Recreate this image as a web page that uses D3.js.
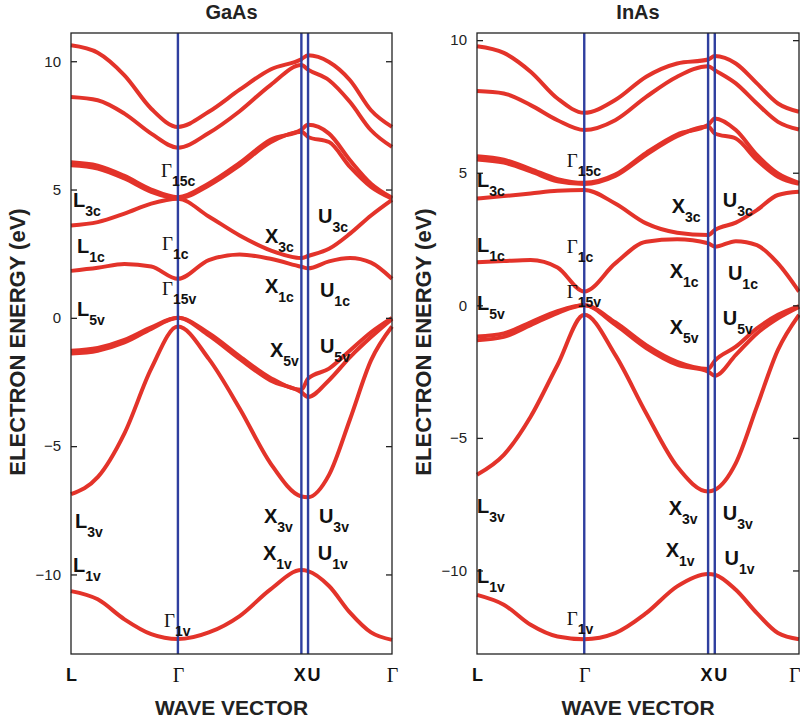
<!DOCTYPE html>
<html>
<head>
<meta charset="utf-8">
<script src="https://cdn.jsdelivr.net/npm/d3@7"></script>
<style>
  body { margin: 0; background: #fff; }
  svg { display: block; }
</style>
</head>
<body>
<div id="chart"></div>
<script>
// symmetry points along the path (k in units of 2pi/a, path length)
const kTickNames = ["L", "Γ", "X", "U", "Γ"];
const kTickPos = [0, 0.866, 1.866, 1.92, 2.6];

const kSamples = [0, 0.2165, 0.433, 0.65, 0.866, 1.116, 1.366, 1.616, 1.866, 1.92, 2.09, 2.26, 2.43, 2.6];

// GaAs bands (eV), one row per band
const gaasBands = [
  [10.62, 10.33, 9.45, 8.15, 7.44, 8.03, 8.89, 9.68, 10.08, 10.23, 9.97, 9.26, 8.09, 7.44],
  [8.61, 8.48, 7.96, 7.18, 6.63, 7.2, 8.05, 9.07, 9.85, 9.67, 9.26, 8.41, 7.31, 6.66],
  [6.06, 5.93, 5.53, 5.0, 4.7, 5.24, 6.04, 6.94, 7.33, 7.52, 7.18, 6.14, 5.23, 4.68],
  [5.95, 5.82, 5.43, 4.91, 4.66, 5.16, 5.94, 6.84, 7.25, 7.05, 6.85, 5.88, 5.1, 4.64],
  [3.6, 3.73, 4.06, 4.45, 4.64, 3.95, 3.21, 2.63, 2.33, 2.41, 2.69, 3.28, 3.99, 4.6],
  [1.83, 1.95, 2.1, 2.0, 1.52, 2.25, 2.47, 2.3, 1.99, 1.93, 2.2, 2.33, 2.15, 1.52],
  [-1.28, -1.17, -0.86, -0.37, 0, -0.6, -1.5, -2.34, -2.8, -2.37, -1.98, -1.27, -0.56, 0],
  [-1.39, -1.28, -0.96, -0.43, 0, -0.68, -1.6, -2.44, -2.9, -3.08, -2.43, -1.53, -0.75, -0.04],
  [-6.87, -6.21, -4.5, -1.98, -0.34, -1.6, -3.53, -5.67, -6.96, -6.99, -6.12, -3.95, -1.66, -0.34],
  [-10.65, -10.97, -11.75, -12.33, -12.52, -12.26, -11.62, -10.58, -9.83, -9.87, -10.45, -11.49, -12.26, -12.55]
];

// InAs bands (eV)
const inasBands = [
  [9.77, 9.52, 8.81, 7.8, 7.26, 7.74, 8.62, 9.12, 9.27, 9.4, 9.12, 8.37, 7.61, 7.3],
  [8.08, 7.99, 7.55, 6.98, 6.61, 6.98, 7.86, 8.62, 9.02, 8.87, 8.37, 7.61, 6.92, 6.63],
  [5.62, 5.49, 5.14, 4.76, 4.62, 4.93, 5.75, 6.44, 6.8, 7.05, 6.61, 5.67, 4.97, 4.62],
  [5.5, 5.38, 5.05, 4.68, 4.58, 4.88, 5.68, 6.38, 6.74, 6.48, 6.29, 5.48, 4.85, 4.58],
  [4.03, 4.12, 4.22, 4.32, 4.35, 3.84, 3.09, 2.74, 2.65, 2.84, 3.12, 3.59, 4.16, 4.28],
  [1.62, 1.67, 1.71, 1.43, 0.52, 1.58, 2.4, 2.49, 2.34, 2.21, 2.42, 2.27, 1.58, 0.52],
  [-1.18, -1.06, -0.64, -0.22, 0, -0.64, -1.5, -2.13, -2.4, -2.09, -1.56, -0.87, -0.36, -0.03],
  [-1.32, -1.19, -0.75, -0.29, 0, -0.73, -1.61, -2.24, -2.5, -2.66, -1.87, -1.06, -0.49, -0.06],
  [-6.39, -5.64, -4.2, -2.25, -0.36, -1.87, -4.07, -6.08, -7.02, -6.96, -5.95, -3.82, -1.68, -0.36],
  [-10.92, -11.29, -12.05, -12.49, -12.59, -12.36, -11.61, -10.6, -10.13, -10.16, -10.73, -11.61, -12.36, -12.59]
];

const yTicks = [-10, -5, 0, 5, 10];

// level labels: main letter, subscript
const levelMain = ["Γ", "L", "Γ", "L", "Γ", "L", "X", "U", "X", "U", "X", "U", "X", "U", "X", "U", "L", "L", "Γ"];
const levelSub = ["15c", "3c", "1c", "1c", "15v", "5v", "3c", "3c", "1c", "1c", "5v", "5v", "3v", "3v", "1v", "1v", "3v", "1v", "1v"];
// anchor (k, E) of each label in each panel
const gaasLabelK = [0.729, 0.016, 0.737, 0.049, 0.737, 0.049, 1.571, 2.0, 1.571, 2.016, 1.611, 2.016, 1.563, 2.008, 1.555, 1.999, 0.032, 0.016, 0.753];
const gaasLabelE = [5.49, 4.32, 2.63, 2.52, 0.89, 0.07, 2.93, 3.71, 0.96, 0.81, -1.53, -1.38, -8.0, -8.0, -9.45, -9.45, -8.2, -9.92, -12.06];
const inasLabelK = [0.724, 0, 0.724, 0, 0.724, 0, 1.572, 1.984, 1.556, 2.026, 1.556, 1.984, 1.548, 1.984, 1.524, 1.999, 0, 0, 0.724];
const inasLabelE = [5.21, 4.48, 1.97, 2.01, 0.28, -0.18, 3.48, 3.71, 1.03, 0.95, -1.1, -0.73, -7.9, -8.09, -9.48, -9.79, -7.83, -10.47, -12.05];

const Red = "#e3332a";
const Blue = "#2f3f9f";
const sans = "'Liberation Sans', Arial, sans-serif";
const serif = "'Liberation Serif', 'Times New Roman', serif";

var svg = d3.select("#chart").append("svg").attr("width", 800).attr("height", 724);

function drawPanel(opts) {
  var x = d3.scaleLinear().domain([0, 2.6]).range([opts.left, opts.right]);
  var y = d3.scaleLinear().domain(opts.yDomain).range([654, 33]);
  var g = svg.append("g");

  // bands
  var line = d3.line()
    .x(function (d, i) { return x(kSamples[i]); })
    .y(function (d) { return y(d); })
    .curve(d3.curveMonotoneX);

  g.selectAll(".band")
    .data(opts.bands)
    .enter()
    .append("path")
    .attr("class", "band")
    .attr("d", line)
    .attr("fill", "none")
    .attr("stroke", Red)
    .attr("stroke-width", 4)
    .attr("stroke-linejoin", "round");

  // vertical lines at G, X, U
  g.selectAll(".sym")
    .data(kTickPos.slice(1, 4))
    .enter()
    .append("line")
    .attr("x1", function (d) { return x(d); })
    .attr("x2", function (d) { return x(d); })
    .attr("y1", 33)
    .attr("y2", 654)
    .attr("stroke", Blue)
    .attr("stroke-width", 2.4);

  // frame
  g.append("rect")
    .attr("x", opts.left)
    .attr("y", 33)
    .attr("width", opts.right - opts.left)
    .attr("height", 621)
    .attr("fill", "none")
    .attr("stroke", "#222")
    .attr("stroke-width", 1.3);

  // y axis, ticks pointing in
  var yAxis = g.append("g")
    .attr("transform", "translate(" + opts.left + ",0)")
    .call(d3.axisLeft(y).tickValues(yTicks).tickSizeInner(-6).tickSizeOuter(0).tickPadding(10));
  yAxis.select(".domain").remove();
  yAxis.selectAll("line").attr("stroke", "#222").attr("stroke-width", 1.3);
  yAxis.selectAll("text")
    .style("font-family", sans)
    .style("font-size", "15px")
    .attr("fill", "#222");

  var yAxisR = g.append("g")
    .attr("transform", "translate(" + opts.right + ",0)")
    .call(d3.axisRight(y).tickValues(yTicks).tickSizeInner(-6).tickSizeOuter(0).tickFormat(""));
  yAxisR.select(".domain").remove();
  yAxisR.selectAll("line").attr("stroke", "#222").attr("stroke-width", 1.3);

  // x tick labels
  var last = kTickNames.length - 1;
  var xAxis = g.append("g")
    .attr("transform", "translate(0,654)")
    .call(d3.axisBottom(x).tickValues(kTickPos).tickSize(0).tickPadding(14)
      .tickFormat(function (d, i) { return kTickNames[i]; }));
  xAxis.select(".domain").remove();
  xAxis.selectAll("text")
    .attr("fill", "#111")
    .style("font-family", function (d, i) { return kTickNames[i] === "Γ" ? serif : sans; })
    .style("font-weight", function (d, i) { return kTickNames[i] === "Γ" ? "normal" : "bold"; })
    .style("font-size", function (d, i) { return kTickNames[i] === "Γ" ? "20px" : "18px"; })
    .attr("text-anchor", function (d, i) {
      if (kTickNames[i] === "X") return "end";
      if (kTickNames[i] === "U") return "start";
      if (i === last && opts.clipLast) return "end";
      return "middle";
    })
    .attr("x", function (d, i) {
      if (kTickNames[i] === "X") return 4;
      if (kTickNames[i] === "U") return -1;
      if (i === last && opts.clipLast) return 1;
      return 0;
    });

  // level labels
  var labels = g.selectAll(".lvl")
    .data(levelMain)
    .enter()
    .append("text")
    .attr("class", "lvl")
    .attr("x", function (d, i) { return x(opts.labelK[i]); })
    .attr("y", function (d, i) { return y(opts.labelE[i]); })
    .attr("fill", "#111");
  labels.append("tspan")
    .text(function (d) { return d; })
    .style("font-family", function (d) { return d === "Γ" ? serif : sans; })
    .style("font-weight", function (d) { return d === "Γ" ? "normal" : "bold"; })
    .style("font-size", function (d) { return d === "Γ" ? "19px" : "20px"; });
  labels.append("tspan")
    .text(function (d, i) { return levelSub[i]; })
    .attr("dy", 9)
    .style("font-family", sans)
    .style("font-weight", "bold")
    .style("font-size", "14px");

  // title
  g.append("text")
    .attr("x", (opts.left + opts.right) / 2)
    .attr("y", 19)
    .attr("text-anchor", "middle")
    .style("font-family", sans)
    .style("font-weight", "bold")
    .style("font-size", "20px")
    .attr("fill", "#222")
    .text(opts.title);

  // axis titles
  g.append("text")
    .attr("x", (opts.left + opts.right) / 2)
    .attr("y", 715)
    .attr("text-anchor", "middle")
    .style("font-family", sans)
    .style("font-weight", "bold")
    .style("font-size", "21px")
    .attr("fill", "#222")
    .text("WAVE VECTOR");

  g.append("text")
    .attr("transform", "translate(" + (opts.left - 46) + ",342) rotate(-90)")
    .attr("text-anchor", "middle")
    .style("font-family", sans)
    .style("font-weight", "bold")
    .style("font-size", "22px")
    .attr("fill", "#222")
    .text("ELECTRON ENERGY (eV)");
}

drawPanel({
  title: "GaAs", left: 71, right: 392, yDomain: [-13.1, 11.1],
  bands: gaasBands, labelK: gaasLabelK, labelE: gaasLabelE, clipLast: false
});
drawPanel({
  title: "InAs", left: 477, right: 799, yDomain: [-13.15, 10.27],
  bands: inasBands, labelK: inasLabelK, labelE: inasLabelE, clipLast: true
});
</script>
</body>
</html>
